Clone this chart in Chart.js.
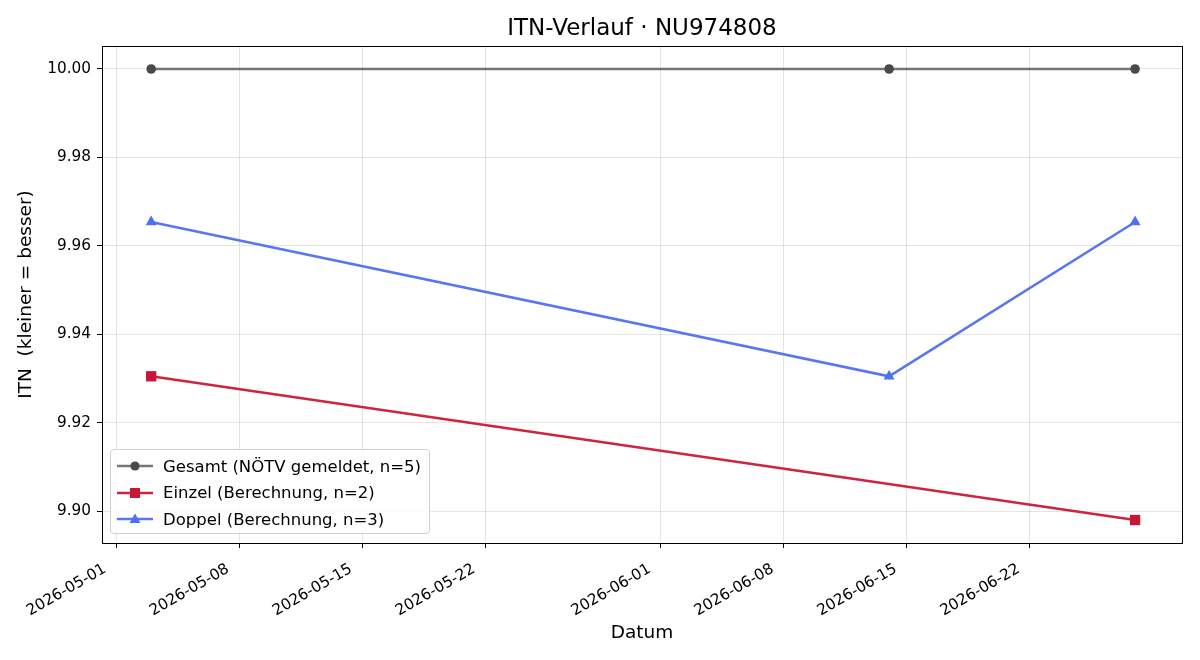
<!DOCTYPE html>
<html>
<head>
<meta charset="utf-8">
<script src="https://cdn.jsdelivr.net/npm/chart.js@4.4.1/dist/chart.umd.min.js"></script>
<style>
  html, body { margin: 0; padding: 0; background: #fff; }
  #wrap { position: relative; width: 1200px; height: 660px; }
  #title {
    position: absolute; left: 102px; width: 1080px; top: 13px; text-align: center;
    font-family: "DejaVu Sans", sans-serif; font-size: 23px; line-height: 28px; color: #000;
  }
  #legend {
    position: absolute; left: 110px; top: 449px; width: 320px; height: 85px;
    border: 1px solid #d0d0d0; border-radius: 4px; background: rgba(255,255,255,0.85);
    font-family: "DejaVu Sans", sans-serif; font-size: 16.5px; color: #000;
    box-sizing: border-box; padding-top: 3px;
  }
  #legend .row { display: flex; align-items: center; height: 26.5px; white-space: nowrap; }
  #legend svg { margin-left: 6px; margin-right: 10px; flex: none; }
</style>
</head>
<body>
<div id="wrap">
  <canvas id="itnChart" width="1200" height="660"></canvas>
  <div id="title">ITN-Verlauf · NU974808</div>
  <div id="legend"></div>
</div>
<script>
// ===== data =====
const tickDates   = ['2026-05-01','2026-05-08','2026-05-15','2026-05-22','2026-06-01','2026-06-08','2026-06-15','2026-06-22'];
const yTicks      = [9.90, 9.92, 9.94, 9.96, 9.98, 10.00];

const gesamtDates = ['2026-05-03','2026-06-14','2026-06-28'];
const gesamtVals  = [10.000, 10.000, 10.000];

const einzelDates = ['2026-05-03','2026-06-28'];
const einzelVals  = [9.9305, 9.8980];

const doppelDates = ['2026-05-03','2026-06-14','2026-06-28'];
const doppelVals  = [9.9654, 9.9305, 9.9654];

const origin = Date.UTC(2026, 4, 1);
const toDay  = (s) => (Date.parse(s + 'T00:00:00Z') - origin) / 86400000;
const fmtDay = (d) => new Date(origin + Math.round(d) * 86400000).toISOString().slice(0, 10);
const pts    = (dates, vals) => dates.map((d, i) => ({ x: toDay(d), y: vals[i] }));

const FONT = '"DejaVu Sans", sans-serif';

// frame round the plot area (all four spines)
const frame = {
  id: 'frame',
  afterDraw(chart) {
    const { ctx, chartArea: a } = chart;
    ctx.save();
    ctx.strokeStyle = '#000';
    ctx.lineWidth = 1;
    ctx.strokeRect(Math.round(a.left) + 0.5, Math.round(a.top) + 0.5, Math.round(a.right - a.left), Math.round(a.bottom - a.top));
    ctx.restore();
  }
};

const datasets = [
  { label: 'Gesamt (NÖTV gemeldet, n=5)', data: pts(gesamtDates, gesamtVals),
    borderColor: 'rgba(68,68,68,0.72)', backgroundColor: '#4a4a4a',
    pointBackgroundColor: '#4a4a4a', pointBorderWidth: 0,
    pointStyle: 'circle', pointRadius: 4.8, borderWidth: 2.5 },
  { label: 'Einzel (Berechnung, n=2)', data: pts(einzelDates, einzelVals),
    borderColor: 'rgb(205,37,64)', backgroundColor: 'rgb(200,22,55)',
    pointBackgroundColor: 'rgb(200,22,55)', pointBorderWidth: 0,
    pointStyle: 'rect', pointRadius: 7.3, borderWidth: 2.6 },
  { label: 'Doppel (Berechnung, n=3)', data: pts(doppelDates, doppelVals),
    borderColor: 'rgb(88,118,242)', backgroundColor: 'rgb(80,112,242)',
    pointBackgroundColor: 'rgb(80,112,242)', pointBorderWidth: 0,
    pointStyle: 'triangle', pointRadius: 6.4, borderWidth: 2.6 },
];

const chart = new Chart(document.getElementById('itnChart').getContext('2d'), {
  type: 'line',
  data: { datasets },
  plugins: [frame],
  options: {
    responsive: false,
    animation: false,
    devicePixelRatio: 1,
    layout: { padding: { left: 0, right: 18, top: 46, bottom: 0 } },
    elements: { line: { tension: 0 } },
    plugins: {
      legend: { display: false },
      tooltip: { enabled: false },
      title: { display: false }
    },
    scales: {
      x: {
        type: 'linear', min: -0.8, max: 60.67,
        afterBuildTicks: (s) => { s.ticks = tickDates.map(d => ({ value: toDay(d) })); },
        afterFit: (s) => { s.height = 117; },
        ticks: {
          callback: (v) => fmtDay(v), color: '#000', autoSkip: false,
          minRotation: 30, maxRotation: 30, padding: 12, labelOffset: -11,
          font: { family: FONT, size: 15.3 }
        },
        grid: { color: 'rgba(0,0,0,0.1)', tickColor: '#000', tickLength: 5, lineWidth: 1 },
        border: { display: false },
        title: { display: true, text: 'Datum', color: '#000', font: { family: FONT, size: 18.5 }, padding: { top: 0, bottom: 16 } }
      },
      y: {
        type: 'linear', min: 9.8928, max: 10.0052,
        afterBuildTicks: (s) => { s.ticks = yTicks.map(v => ({ value: v })); },
        afterFit: (s) => { s.width = 102; },
        ticks: { callback: (v) => Number(v).toFixed(2), color: '#000', padding: 6, font: { family: FONT, size: 15.3 } },
        grid: { color: 'rgba(0,0,0,0.1)', tickColor: '#000', tickLength: 5, lineWidth: 1 },
        border: { display: false },
        title: { display: true, text: 'ITN  (kleiner = besser)', color: '#000', font: { family: FONT, size: 18.5 }, padding: { top: 15, bottom: 0 } }
      }
    }
  }
});

// legend inside the plot, lower left (HTML, built from the datasets)
(function () {
  const box = document.getElementById('legend');
  chart.data.datasets.forEach(ds => {
    const c = ds.pointBackgroundColor, l = ds.borderColor;
    let mark = '';
    if (ds.pointStyle === 'circle') mark = `<circle cx="18" cy="7" r="4.6" fill="${c}"/>`;
    if (ds.pointStyle === 'rect') mark = `<rect x="13" y="2" width="10" height="10" fill="${c}"/>`;
    if (ds.pointStyle === 'triangle') mark = `<polygon points="18,1.5 23.5,11 12.5,11" fill="${c}"/>`;
    const row = document.createElement('div');
    row.className = 'row';
    row.innerHTML = `<svg width="36" height="14"><line x1="0" y1="7" x2="36" y2="7" stroke="${l}" stroke-width="2.5"/>${mark}</svg><span>${ds.label}</span>`;
    box.appendChild(row);
  });
})();
</script>
</body>
</html>
